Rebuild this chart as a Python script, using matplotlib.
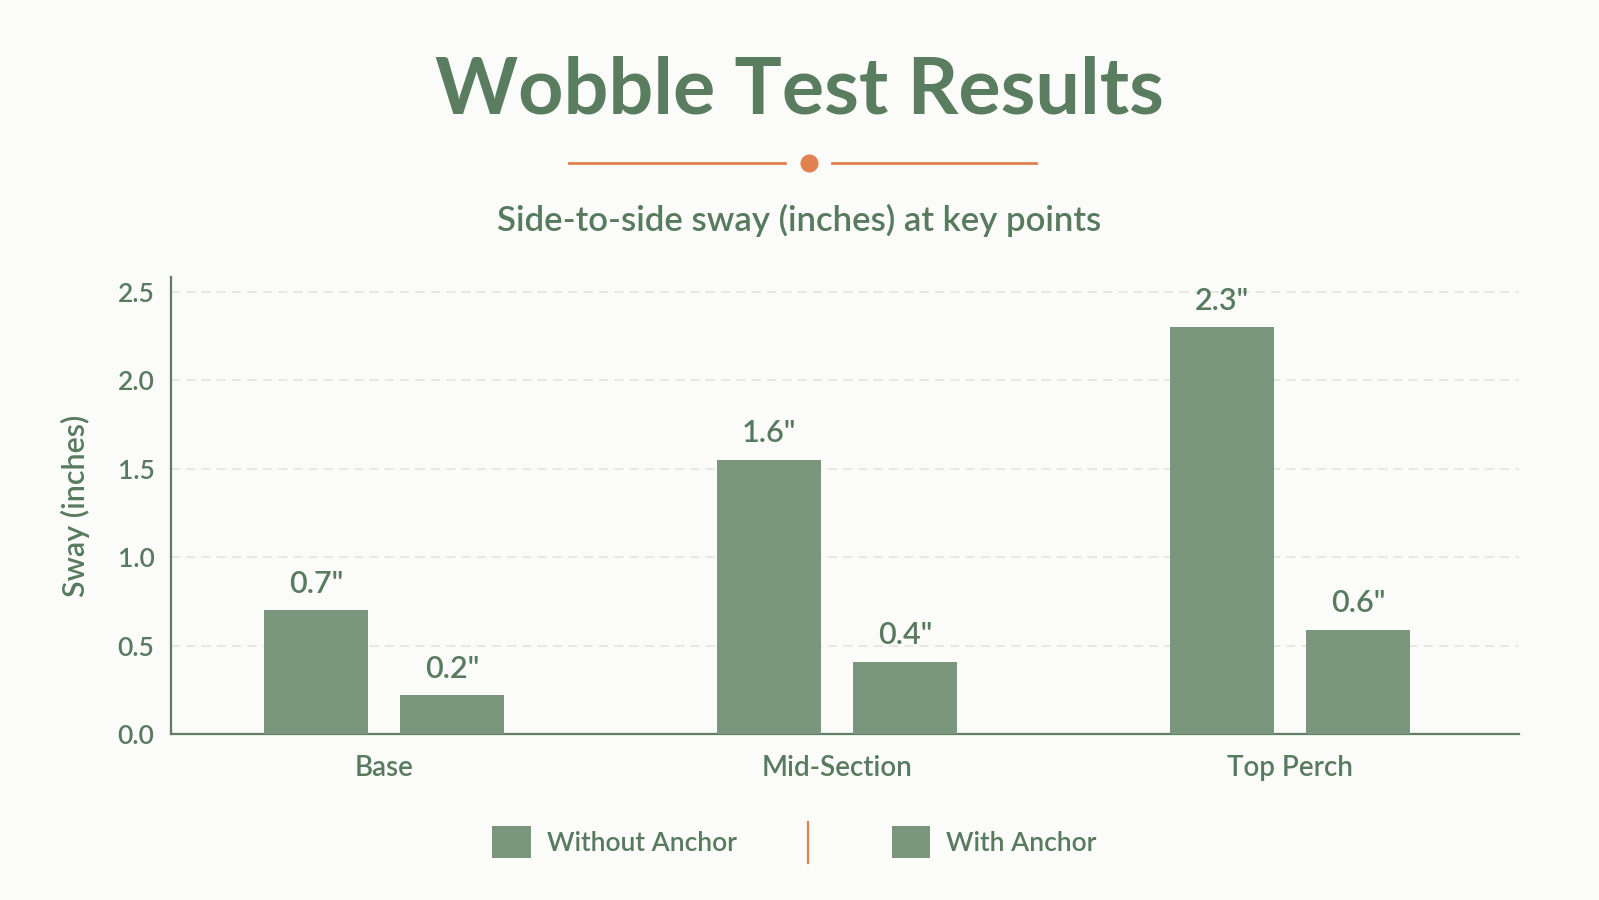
import numpy as np
import matplotlib.pyplot as plt
from matplotlib.patches import Patch
from matplotlib.lines import Line2D

# data
categories = ["Base", "Mid-Section", "Top Perch"]
without_anchor = [0.7, 1.55, 2.3]
with_anchor = [0.22, 0.41, 0.59]
series_names = ["Without Anchor", "With Anchor"]
yticks = [0.0, 0.5, 1.0, 1.5, 2.0, 2.5]

bg = "#FBFBF9"
bar_color = "#7A977D"
text_color = "#587A5F"
title_color = "#5A7D60"
orange = "#E0814F"
grid_color = "#E2E2DE"

plt.rcParams['font.family'] = ['Lato', 'DejaVu Sans']

fig = plt.figure(figsize=(15.99, 9), dpi=100, facecolor=bg)
ax = fig.add_axes([0.107, 0.1844, 0.843, 0.508])
ax.set_facecolor(bg)

x = np.arange(len(categories))
w = 0.23
off = 0.15
b1 = ax.bar(x - off, without_anchor, w, color=bar_color, zorder=3)
b2 = ax.bar(x + off, with_anchor, w, color=bar_color, zorder=3)

for bars, vals in ((b1, without_anchor), (b2, with_anchor)):
    for b, v in zip(bars, vals):
        ax.annotate(f'{v:.1f}"', (b.get_x() + b.get_width() / 2, v),
                    xytext=(0, 9), textcoords="offset points",
                    ha="center", va="bottom", fontsize=22,
                    fontweight="semibold", color=text_color)

ax.set_xlim(-0.47, 2.505)
ax.set_ylim(0, 2.585)
ax.set_yticks(yticks)
ax.set_yticklabels([f"{t:.1f}" for t in yticks])
ax.set_xticks(x)
ax.set_xticklabels(categories)
ax.tick_params(axis="y", length=0, pad=12, labelsize=19, labelcolor=text_color)
ax.tick_params(axis="x", length=0, pad=15, labelsize=20, labelcolor=text_color)
for lbl in ax.get_xticklabels() + ax.get_yticklabels():
    lbl.set_fontweight("semibold")

ax.grid(axis="y", color=grid_color, linestyle=(0, (6, 4)), linewidth=1.1, zorder=0)
ax.set_axisbelow(True)
for s in ("top", "right"):
    ax.spines[s].set_visible(False)
for s in ("left", "bottom"):
    ax.spines[s].set_color("#5E7D64")
    ax.spines[s].set_linewidth(1.6)

ax.set_ylabel("Sway (inches)", fontsize=22, color=text_color,
              fontweight="semibold", labelpad=20)

# title + ornament
fig.text(0.5, 1 - 92 / 900, "Wobble Test Results", ha="center", va="center",
         fontsize=57, fontweight="bold", color=title_color)
fig.add_artist(Line2D([569 / 1599, 785 / 1599], [1 - 163 / 900] * 2,
                      color=orange, lw=2, transform=fig.transFigure))
fig.add_artist(Line2D([832 / 1599, 1036 / 1599], [1 - 163 / 900] * 2,
                      color=orange, lw=2, transform=fig.transFigure))
fig.add_artist(Line2D([809 / 1599], [1 - 163 / 900], marker="o", markersize=12,
                      color=orange, transform=fig.transFigure))
fig.text(0.5, 1 - 220 / 900, "Side-to-side sway (inches) at key points",
         ha="center", va="center", fontsize=25, color=text_color,
         fontweight="semibold")

# legend
handles = [Patch(facecolor=bar_color, edgecolor="none") for _ in series_names]
leg = fig.legend(handles, series_names, loc="center",
                 bbox_to_anchor=(0.5 - 5 / 1599, 1 - 842 / 900), ncol=2, frameon=False,
                 fontsize=19, handlelength=1.45, handleheight=1.45,
                 handletextpad=0.6, columnspacing=5.9)
for t in leg.get_texts():
    t.set_color(text_color)
    t.set_fontweight("semibold")
fig.add_artist(Line2D([808 / 1599] * 2, [1 - 822 / 900, 1 - 863 / 900],
                      color=orange, lw=1.6, transform=fig.transFigure))

fig.savefig("out.png", dpi=100, facecolor=bg)
